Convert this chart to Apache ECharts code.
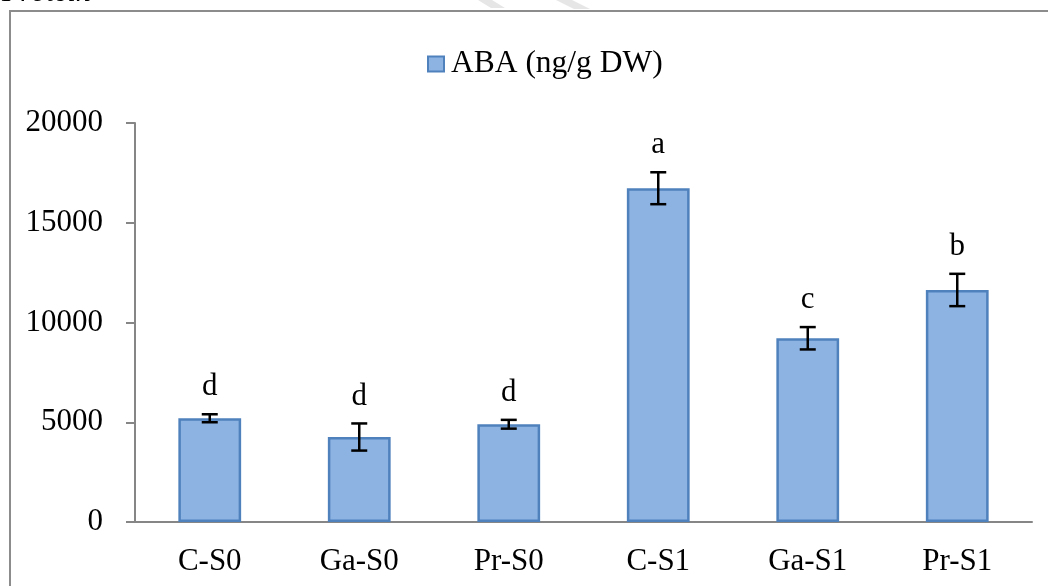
<!DOCTYPE html>
<html>
<head>
<meta charset="utf-8">
<script src="https://cdn.jsdelivr.net/npm/echarts@6/dist/echarts.min.js"></script>
<style>html,body{margin:0;padding:0;background:#fff;}#c{width:1048px;height:586px;}</style>
</head>
<body>
<div id="c"></div>
<script>
var categories = ['C-S0', 'Ga-S0', 'Pr-S0', 'C-S1', 'Ga-S1', 'Pr-S1'];
var abaMeans = [5200, 4260, 4900, 16730, 9210, 11630];
var abaErrors = [200, 680, 220, 800, 560, 810];
var sigLetters = ['d', 'd', 'd', 'a', 'c', 'b'];
var yTicks = [0, 5000, 10000, 15000, 20000];

var FONT = '"Liberation Serif", "Times New Roman", serif';
var chart = echarts.init(document.getElementById('c'), null, {renderer: 'canvas'});

var errData = categories.map(function (c, i) { return [i, abaMeans[i], abaErrors[i]]; });

chart.setOption({
  animation: false,
  backgroundColor: '#ffffff',
  graphic: [
    {type: 'rect', shape: {x: 10, y: 11, width: 1100, height: 700}, style: {fill: 'none', stroke: '#8c8c8c', lineWidth: 2}, z: 0},
    {type: 'text', left: 2, top: -22, style: {text: 'Protein', font: 'italic 30px ' + FONT, fill: '#000'}},
    {type: 'polygon', shape: {points: [[478, 0], [492, 0], [505, 8], [491, 8]]}, style: {fill: '#e6e6e6'}},
    {type: 'polygon', shape: {points: [[556, 0], [572, 0], [590, 9], [574, 9]]}, style: {fill: '#e6e6e6'}}
  ],
  legend: {
    show: true,
    left: 422,
    top: 43,
    itemWidth: 16,
    itemHeight: 15,
    itemGap: 10,
    data: [{name: 'ABA (ng/g DW)', icon: 'rect'}],
    textStyle: {fontFamily: FONT, fontSize: 31.5, color: '#000', padding: [0, 0, 0, 2]}
  },
  grid: {left: 135, right: 16, top: 123, bottom: 64, containLabel: false},
  xAxis: {
    type: 'category',
    data: categories,
    axisLine: {lineStyle: {color: '#868686', width: 2}},
    axisTick: {show: false},
    axisLabel: {fontFamily: FONT, fontSize: 31, color: '#000', margin: 24}
  },
  yAxis: {
    type: 'value',
    min: yTicks[0],
    max: yTicks[yTicks.length - 1],
    interval: 5000,
    splitLine: {show: false},
    axisLine: {show: true, lineStyle: {color: '#868686', width: 2}},
    axisTick: {show: true, inside: false, length: 9, lineStyle: {color: '#868686', width: 2}},
    axisLabel: {fontFamily: FONT, fontSize: 31, color: '#000', margin: 32, formatter: function (v) { return String(v); }}
  },
  series: [
    {
      name: 'ABA (ng/g DW)',
      type: 'bar',
      data: abaMeans,
      barWidth: '42%',
      itemStyle: {color: '#8db3e2', borderColor: '#4f81bd', borderWidth: 2.5},
      z: 2
    },
    {
      type: 'custom',
      data: errData,
      z: 5,
      renderItem: function (params, api) {
        var i = api.value(0), m = api.value(1), e = api.value(2);
        var top = api.coord([i, m + e]);
        var bot = api.coord([i, m - e]);
        var x = top[0];
        var hw = 8;
        var style = {stroke: '#000', lineWidth: 2.5};
        return {
          type: 'group',
          children: [
            {type: 'line', shape: {x1: x, y1: top[1], x2: x, y2: bot[1]}, style: style},
            {type: 'line', shape: {x1: x - hw, y1: top[1], x2: x + hw, y2: top[1]}, style: style},
            {type: 'line', shape: {x1: x - hw, y1: bot[1], x2: x + hw, y2: bot[1]}, style: style},
            {type: 'text', x: x, y: top[1] - 27, style: {text: sigLetters[params.dataIndex], font: '31px ' + FONT, fill: '#000', align: 'center', verticalAlign: 'middle'}}
          ]
        };
      }
    }
  ]
});
</script>
</body>
</html>
